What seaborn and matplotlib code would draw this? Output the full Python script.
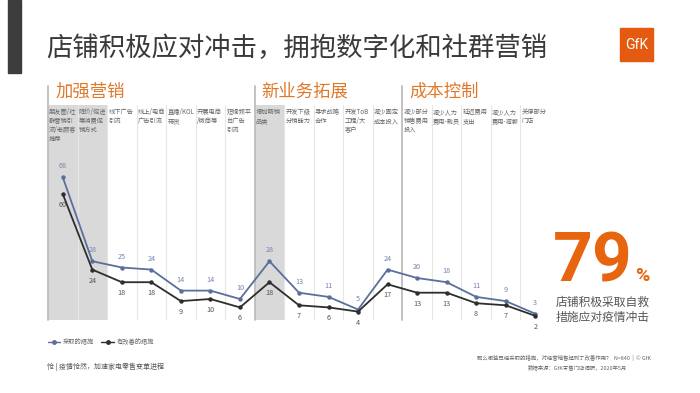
import numpy as np
import pandas as pd
import matplotlib
matplotlib.use('Agg')
import matplotlib.pyplot as plt
import matplotlib.transforms as mtransforms
from matplotlib.patches import Rectangle
from matplotlib.lines import Line2D
import seaborn as sns

# ---- data ----
categories = [
    '朋友圈/社\n群营销引\n流/老顾客\n推荐', '降价/促进\n等消费促\n销方式', '线下广告\n引流',
    '线上/电商\n广告引流', '直播/KOL\n带货', '开展电商\n/微商等', '短视频平\n台广告\n引流',
    '增加畅销\n品类', '开发下级\n分销能力', '寻求战略\n合作', '开发ToB\n工程/大\n客户',
    '减少固定\n成本投入', '减少部分\n销售费用\n投入', '减少人力\n费用-裁员', '延迟费用\n支出',
    '减少人力\n费用-减薪', '关停部分\n门店',
]
taken = [68, 28, 25, 24, 14, 14, 10, 28, 13, 11, 5, 24, 20, 18, 11, 9, 3]
improved = [60, 24, 18, 18, 9, 10, 6, 18, 7, 6, 4, 17, 13, 13, 8, 7, 2]
series_names = ['采取的措施', '有改善的措施']
sections = ['加强营销', '新业务拓展', '成本控制']
section_start = [0, 7, 12]
highlight_cols = [0, 1, 7]

BLUE = '#5B6F9C'
DARK = '#2E2E2E'
ORANGE = '#E8650F'

sns.set_theme(style='white')
plt.rcParams['font.family'] = ['Noto Sans CJK SC', 'DejaVu Sans']

df = pd.DataFrame({
    'idx': list(range(len(categories))) * 2,
    'value': taken + improved,
    'series': [series_names[0]] * len(taken) + [series_names[1]] * len(improved),
})

fig = plt.figure(figsize=(7, 3.93), dpi=100)
fig.patch.set_facecolor('white')
ax = fig.add_axes([48 / 700, 1 - 320 / 393, 502 / 700, 215 / 393])

n = len(categories)
for i in highlight_cols:
    ax.axvspan(i - 0.5, i + 0.5, color='#D9D9D9', lw=0, zorder=0)
for i in range(n):
    if i + 1 not in section_start:
        ax.axvline(i + 0.5, color='#E6E6E6', lw=0.8, zorder=1)
for s in section_start:
    ax.axvline(s - 0.5, ymin=0, ymax=(320 - 86) / 215, color='#BDBDBD', lw=1.3,
               clip_on=False, zorder=2)

sns.lineplot(data=df, x='idx', y='value', hue='series', palette=[BLUE, DARK],
             marker='o', markersize=3.2, markeredgewidth=0, linewidth=1.3,
             legend=False, ax=ax, zorder=3)

for i, (a, b) in enumerate(zip(taken, improved)):
    ax.annotate(str(a), (i, a), xytext=(0, 5), textcoords='offset points',
                ha='center', va='bottom', fontsize=5.2, color='#7584AC')
    ax.annotate(str(b), (i, b), xytext=(0, -5), textcoords='offset points',
                ha='center', va='top', fontsize=5.2, color='#555555')

trans = mtransforms.blended_transform_factory(ax.transData, ax.transAxes)
for i, lab in enumerate(categories):
    ax.text(i - 0.46, 0.985, lab, transform=trans, ha='left', va='top',
            fontsize=4.5, color='#666666', linespacing=1.15)
for name, s in zip(sections, section_start):
    ax.text(s - 0.26, (320 - 92) / 215, name, transform=trans, ha='left',
            va='center', fontsize=12.5, color='#E0782A')

ax.set_xlim(-0.5, n - 0.5)
ax.set_ylim(0, 102.4)
ax.set_xticks([])
ax.set_yticks([])
ax.set_xlabel('')
ax.set_ylabel('')
sns.despine(ax=ax, left=True, bottom=True)

# legend
handles = [Line2D([0], [0], color=BLUE, marker='o', markersize=2.5, lw=1),
           Line2D([0], [0], color=DARK, marker='o', markersize=2.5, lw=1)]
fig.legend(handles, series_names, loc='center left',
           bbox_to_anchor=(42 / 700, 1 - 342 / 393), ncol=2, frameon=False,
           fontsize=4.5, handlelength=2, handletextpad=0.4, columnspacing=1.2,
           labelcolor='#666666')

# header decorations
fig.patches.append(Rectangle((8 / 700, 1 - 73 / 393), 13 / 700, 73 / 393,
                             transform=fig.transFigure, color='#3C3C3C'))
fig.text(46 / 700, 1 - 48 / 393, '店铺积极应对冲击，拥抱数字化和社群营销',
         fontsize=19, color='#3A3A3A', va='center', ha='left')
fig.patches.append(Rectangle((620 / 700, 1 - 61 / 393), 33 / 700, 33 / 393,
                             transform=fig.transFigure, color='#E55A11'))
fig.text(636.5 / 700, 1 - 45 / 393, 'GfK', fontsize=10, color='white',
         ha='center', va='center', family=['Roboto'])

# big number
fig.text(553 / 700, 1 - 281 / 393, '79', fontsize=50, color=ORANGE,
         weight='bold', ha='left', va='baseline', family=['Roboto'])
fig.text(635 / 700, 1 - 281 / 393, '%', fontsize=14, color=ORANGE,
         weight='bold', ha='left', va='baseline', family=['Roboto'])
fig.text(556 / 700, 1 - 302 / 393, '店铺积极采取自救', fontsize=8.5,
         color='#555555', va='center', ha='left')
fig.text(556 / 700, 1 - 317 / 393, '措施应对疫情冲击', fontsize=8.5,
         color='#555555', va='center', ha='left')

# footer
fig.text(47 / 700, 1 - 367 / 393, '怆 | 疫情怆然，加速家电零售变革进程',
         fontsize=5, color='#555555', va='center', ha='left')
fig.text(651 / 700, 1 - 358 / 393,
         '那么哪些已经采取的措施，对经营销售起到了改善作用？  N=840  |  © GfK',
         fontsize=3.9, color='#666666', va='center', ha='right')
fig.text(627 / 700, 1 - 367 / 393, '数据来源：GfK零售门店调研，2020年5月',
         fontsize=3.9, color='#666666', va='center', ha='right')

fig.savefig('out.png', dpi=100)
